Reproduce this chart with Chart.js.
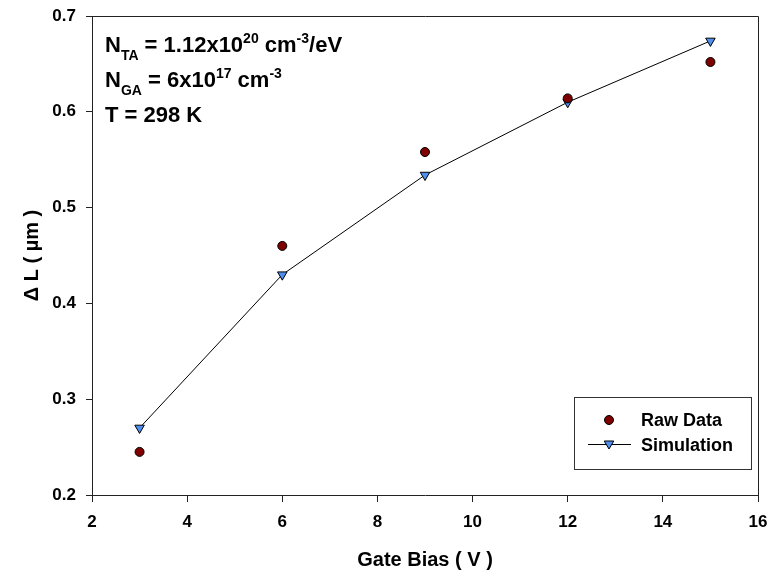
<!DOCTYPE html>
<html>
<head>
<meta charset="utf-8">
<script src="https://cdn.jsdelivr.net/npm/chart.js@4.4.1/dist/chart.umd.min.js"></script>
<style>
  html, body { margin: 0; padding: 0; background: #fff; }
  #wrap { width: 773px; height: 581px; }
</style>
</head>
<body>
<div id="wrap"><canvas id="chart" width="773" height="581"></canvas></div>
<script>
const gateBias = [3, 6, 9, 12, 15];
const rawData = [0.245, 0.46, 0.558, 0.614, 0.652];
const simulation = [0.27, 0.43, 0.534, 0.61, 0.674];
const xTicks = [2, 4, 6, 8, 10, 12, 14, 16];
const yTicks = [0.2, 0.3, 0.4, 0.5, 0.6, 0.7];

const FONT = '"Liberation Sans", Arial, sans-serif';

// top/right frame, text block and legend
const extras = {
  id: 'extras',
  afterDraw(chart) {
    const ctx = chart.ctx;
    const a = chart.chartArea;
    ctx.save();
    ctx.strokeStyle = '#222';
    ctx.lineWidth = 1;
    ctx.beginPath();
    ctx.moveTo(a.left, a.top + 0.5);
    ctx.lineTo(a.right + 0.5, a.top + 0.5);
    ctx.lineTo(a.right + 0.5, a.bottom);
    ctx.stroke();

    // parameter text
    ctx.fillStyle = '#000';
    ctx.textBaseline = 'alphabetic';
    ctx.textAlign = 'left';
    const big = 'bold 22px ' + FONT, small = 'bold 14px ' + FONT;
    function runs(x, y, parts) {
      parts.forEach(p => {
        ctx.font = p[1] === 0 ? big : small;
        ctx.fillText(p[0], x, y + p[1]);
        x += ctx.measureText(p[0]).width;
      });
    }
    const tx = a.left + 13;
    runs(tx, 52, [['N', 0], ['TA', 8], [' = 1.12x10', 0], ['20', -9], [' cm', 0], ['-3', -9], ['/eV', 0]]);
    runs(tx, 87, [['N', 0], ['GA', 8], [' = 6x10', 0], ['17', -9], [' cm', 0], ['-3', -9]]);
    runs(tx, 122, [['T = 298 K', 0]]);

    // legend
    const lx = 574, ly = 397, lw = 177, lh = 72;
    ctx.fillStyle = '#fff';
    ctx.fillRect(lx, ly, lw, lh);
    ctx.strokeStyle = '#333';
    ctx.strokeRect(lx + 0.5, ly + 0.5, lw, lh);
    const d0 = chart.data.datasets[0], d1 = chart.data.datasets[1];
    ctx.beginPath();
    ctx.arc(609, 420, d0.pointRadius, 0, Math.PI * 2);
    ctx.fillStyle = d0.pointBackgroundColor;
    ctx.fill();
    ctx.strokeStyle = '#000';
    ctx.lineWidth = 1;
    ctx.stroke();
    ctx.beginPath();
    ctx.moveTo(588, 444.5);
    ctx.lineTo(631, 444.5);
    ctx.stroke();
    const r = d1.pointRadius;
    ctx.beginPath();
    ctx.moveTo(609 - r * 0.87, 441);
    ctx.lineTo(609 + r * 0.87, 441);
    ctx.lineTo(609, 449);
    ctx.closePath();
    ctx.fillStyle = d1.pointBackgroundColor;
    ctx.fill();
    ctx.stroke();
    ctx.fillStyle = '#000';
    ctx.font = 'bold 18px ' + FONT;
    ctx.textBaseline = 'middle';
    ctx.fillText('Raw Data', 641, 421);
    ctx.fillText('Simulation', 641, 446);
    ctx.restore();
  }
};

new Chart(document.getElementById('chart'), {
  type: 'scatter',
  data: {
    datasets: [
      {
        label: 'Raw Data',
        data: gateBias.map((x, i) => ({ x: x, y: rawData[i] })),
        pointStyle: 'circle',
        pointRadius: 4.5,
        pointBackgroundColor: '#7f0000',
        pointBorderColor: '#000',
        pointBorderWidth: 1,
        showLine: false
      },
      {
        label: 'Simulation',
        data: gateBias.map((x, i) => ({ x: x, y: simulation[i] })),
        pointStyle: 'triangle',
        rotation: 180,
        pointRadius: 5.5,
        pointBackgroundColor: '#4f8ff0',
        pointBorderColor: '#000',
        pointBorderWidth: 1,
        showLine: true,
        borderColor: '#000',
        borderWidth: 1,
        tension: 0
      }
    ]
  },
  options: {
    responsive: false,
    animation: false,
    layout: { padding: { top: 16, right: 15, left: 0, bottom: 0 } },
    plugins: { legend: { display: false }, tooltip: { enabled: false } },
    scales: {
      x: {
        type: 'linear',
        min: 2, max: 16,
        afterBuildTicks: s => { s.ticks = xTicks.map(v => ({ value: v })); },
        afterFit: s => { s.height = 86; s.paddingLeft = 0; s.paddingRight = 0; },
        grid: { drawOnChartArea: false, drawTicks: true, tickLength: 7, color: '#222' },
        border: { display: true, color: '#222', width: 1 },
        ticks: { color: '#000', font: { family: FONT, size: 17, weight: 'bold' }, padding: 10 },
        title: { display: true, text: 'Gate Bias ( V )', color: '#000', font: { family: FONT, size: 20, weight: 'bold' }, padding: { top: 0, bottom: 9 } }
      },
      y: {
        type: 'linear',
        min: 0.2, max: 0.7,
        afterBuildTicks: s => { s.ticks = yTicks.map(v => ({ value: v })); },
        afterFit: s => { s.width = 92; s.paddingTop = 0; s.paddingBottom = 0; },
        grid: { drawOnChartArea: false, drawTicks: true, tickLength: 6, color: '#222' },
        border: { display: true, color: '#222', width: 1 },
        ticks: { color: '#000', font: { family: FONT, size: 17, weight: 'bold' }, padding: 10, callback: v => v.toFixed(1) },
        title: { display: true, text: 'Δ L ( µm )', color: '#000', font: { family: FONT, size: 20, weight: 'bold' }, padding: { top: 20, bottom: 0 } }
      }
    }
  },
  plugins: [extras]
});
</script>
</body>
</html>
